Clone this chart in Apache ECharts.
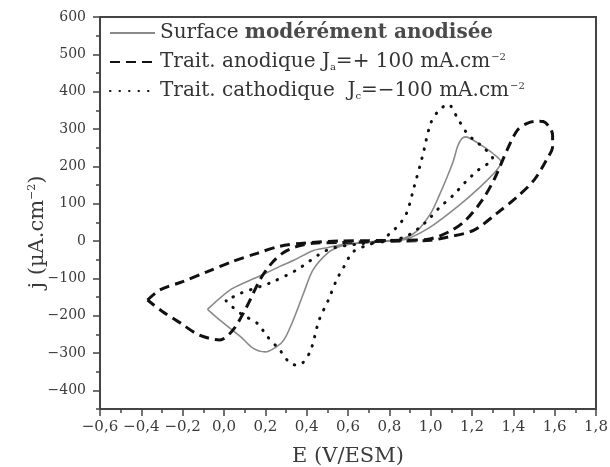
<!DOCTYPE html>
<html>
<head>
<meta charset="utf-8">
<script src="https://cdn.jsdelivr.net/npm/echarts@6/dist/echarts.min.js"></script>
<style>
  html, body { margin: 0; padding: 0; background: #fff; }
  #root { width: 610px; height: 467px; }
</style>
</head>
<body>
<div id="root"></div>
<script>
// Surface modérément anodisée (solid grey loop)
const solidE = [-0.08, 0.03, 0.11, 0.20, 0.27, 0.34, 0.43, 0.50, 0.56, 0.65, 0.75, 0.85, 0.93, 1.00, 1.04, 1.08, 1.11, 1.13, 1.15, 1.17, 1.20, 1.25, 1.30, 1.34,
  1.32, 1.24, 1.13, 1.00, 0.88, 0.75, 0.62, 0.56, 0.50, 0.43, 0.385, 0.335, 0.29, 0.255, 0.20, 0.14, 0.08, -0.02, -0.08];
const solidJ = [-183, -131, -109, -87, -68, -51, -26, -18, -11, -5, 0, 4, 25, 74, 120, 172, 215, 253, 274, 279, 272, 255, 235, 212,
  190, 145, 92, 38, 5, -2, -8, -15, -33, -78, -140, -212, -265, -283, -297, -287, -256, -212, -183];

// Trait. anodique (dashed loop)
const dashE = [-0.37, -0.31, -0.20, -0.08, 0.04, 0.16, 0.27, 0.40, 0.56, 0.70, 0.85, 0.98, 1.09, 1.17, 1.25, 1.31, 1.37, 1.42, 1.47, 1.52, 1.545, 1.575, 1.59, 1.59, 1.56,
  1.50, 1.42, 1.32, 1.21, 1.08, 1.00, 0.85, 0.70, 0.56, 0.43, 0.35, 0.285, 0.23, 0.174, 0.11, 0.044, -0.02, -0.12, -0.21, -0.30, -0.37];
const dashJ = [-158, -131, -109, -82, -55, -33, -14, -5, 0, 1, 2, 4, 25, 56, 110, 168, 244, 297, 316, 321, 320, 305, 284, 253, 217,
  163, 119, 74, 29, 10, 2, 0, -2, -4, -6, -15, -32, -60, -104, -176, -238, -265, -252, -220, -188, -158];

// Trait. cathodique (dotted loop)
const dotE = [0.01, 0.04, 0.09, 0.16, 0.21, 0.27, 0.32, 0.35, 0.38, 0.42, 0.46, 0.505, 0.545, 0.58, 0.625, 0.70, 0.76, 0.83, 0.88, 0.92, 0.96, 1.00, 1.04, 1.085,
  1.13, 1.17, 1.21, 1.25, 1.30, 1.23, 1.17, 1.11, 1.04, 0.97, 0.88, 0.77, 0.65, 0.50, 0.35, 0.22, 0.08, 0.01];
const dotJ = [-160, -176, -198, -220, -256, -292, -328, -332, -327, -292, -212, -158, -104, -69, -29, -10, 2, 34, 70, 145, 226, 315, 350, 366,
  329, 293, 270, 253, 221, 190, 159, 123, 88, 47, 12, -2, -8, -24, -78, -113, -140, -160];

const yTicks = [-400, -300, -200, -100, 0, 100, 200, 300, 400, 500, 600];
const yMinorTicks = [-450, -350, -250, -150, -50, 50, 150, 250, 350, 450, 550];

const FONT = 'DejaVu Serif';
const INK = '#3a3a3a';

const toPairs = (xs, ys) => xs.map((x, i) => [x, ys[i]]);
const fmtNum = (v, d) => v.toFixed(d).replace('.', ',').replace('-', '\u2212');

const myChart = echarts.init(document.getElementById('root'), null, { renderer: 'canvas' });

const legendRich = {
  n: { fontFamily: FONT, fontSize: 20, color: '#333' },
  b: { fontFamily: FONT, fontSize: 20, color: '#4a4a4a', fontWeight: 'bold' },
  sub: { fontFamily: FONT, fontSize: 10, color: '#333', padding: [10, 0, 0, 0] },
  sup: { fontFamily: FONT, fontSize: 10, color: '#333', padding: [0, 0, 9, 1] }
};

const legendLabels = {
  'Surface modérément anodisée': '{n|Surface }{b|modérément anodisée}',
  'Trait. anodique': '{n|Trait. anodique J}{sub|a}{n|=+ 100 mA.cm}{sup|\u22122}',
  'Trait. cathodique': '{n|Trait. cathodique  J}{sub|c}{n|=\u2212100 mA.cm}{sup|\u22122}'
};

const option = {
  animation: false,
  grid: {
    left: 100, right: 14, top: 17, bottom: 58,
    outerBoundsMode: 'none',
    show: true, borderColor: '#444', borderWidth: 2, backgroundColor: 'transparent'
  },
  legend: {
    orient: 'vertical',
    left: 104, top: 18,
    itemWidth: 45, itemHeight: 14, itemGap: 9,
    itemStyle: { opacity: 0 },
    formatter: name => legendLabels[name],
    textStyle: { rich: legendRich },
    data: ['Surface modérément anodisée', 'Trait. anodique', 'Trait. cathodique']
  },
  xAxis: {
    type: 'value',
    min: -0.6, max: 1.8, interval: 0.2,
    name: 'E (V/ESM)',
    nameLocation: 'middle', nameGap: 37,
    nameMoveOverlap: false,
    nameTextStyle: { fontFamily: FONT, fontSize: 21, color: INK },
    axisLine: { onZero: false, lineStyle: { color: '#444', width: 2 } },
    axisTick: { inside: false, length: 7, lineStyle: { color: '#444', width: 1.5 } },
    minorTick: { show: true, splitNumber: 2, length: 4, lineStyle: { color: '#444', width: 1.5 } },
    axisLabel: { fontFamily: FONT, fontSize: 15, color: INK, margin: 11, formatter: v => fmtNum(v, 1) },
    splitLine: { show: false }
  },
  yAxis: [{
    type: 'value',
    min: -450, max: 600,
    name: '{n|j (\u00b5A.cm}{sup|\u22122}{n|)}',
    nameLocation: 'middle', nameGap: 52,
    nameMoveOverlap: false,
    nameTextStyle: {
      padding: [0, 38, 0, 0],
      rich: {
        n: { fontFamily: FONT, fontSize: 21, color: INK },
        sup: { fontFamily: FONT, fontSize: 11, color: INK, padding: [0, 0, 10, 0] }
      }
    },
    axisLine: { onZero: false, lineStyle: { color: '#444', width: 2 } },
    axisTick: { length: 7, customValues: yTicks, lineStyle: { color: '#444', width: 1.5 } },
    axisLabel: {
      fontFamily: FONT, fontSize: 14, color: INK, margin: 14,
      customValues: yTicks, formatter: v => fmtNum(v, 0)
    },
    splitLine: { show: false }
  }, {
    type: 'value',
    min: -450, max: 600,
    position: 'left',
    axisLine: { show: false, onZero: false },
    axisTick: { length: 4, customValues: yMinorTicks, lineStyle: { color: '#444', width: 1.5 } },
    axisLabel: { show: false },
    splitLine: { show: false }
  }],
  series: [{
    name: 'Surface modérément anodisée',
    type: 'line',
    data: toPairs(solidE, solidJ),
    symbol: 'none',
    smooth: 0.3,
    lineStyle: { color: '#8a8a8a', width: 1.6, type: 'solid' },
    itemStyle: { color: '#8a8a8a' }
  }, {
    name: 'Trait. anodique',
    type: 'line',
    data: toPairs(dashE, dashJ),
    symbol: 'none',
    smooth: 0.3,
    lineStyle: { color: '#111', width: 3, type: [10, 6] },
    itemStyle: { color: '#111' }
  }, {
    name: 'Trait. cathodique',
    type: 'line',
    data: toPairs(dotE, dotJ),
    symbol: 'none',
    smooth: 0.3,
    lineStyle: { color: '#111', width: 3, type: [0.5, 9], cap: 'round' },
    itemStyle: { color: '#111' }
  }]
};

myChart.setOption(option);

window.onresize = () => myChart.resize();
</script>
</body>
</html>
